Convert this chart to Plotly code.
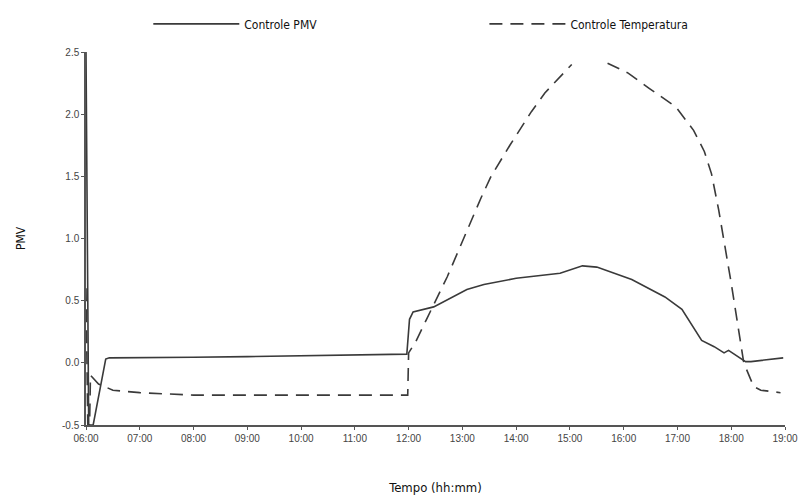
import plotly.graph_objects as go

# ---- data (time as HH:MM, PMV values) ----
pmv_times = ["06:00", "06:03", "06:08", "06:22", "06:26", "07:00", "08:00", "09:00",
             "10:00", "11:00", "11:58", "12:01", "12:05", "12:28", "13:05", "13:24",
             "14:00", "14:49", "15:14", "15:30", "16:09", "16:46", "17:05", "17:27",
             "17:41", "17:52", "17:57", "18:16", "18:22", "18:58"]
pmv_values = [2.5, -0.5, -0.5, 0.03, 0.04, 0.04, 0.045, 0.05,
              0.055, 0.06, 0.07, 0.35, 0.41, 0.45, 0.59, 0.63,
              0.68, 0.72, 0.78, 0.77, 0.67, 0.53, 0.43, 0.18,
              0.13, 0.08, 0.10, 0.01, 0.01, 0.04]

temp_times = ["06:00", "06:02", "06:04", "06:05", "06:14", "06:20", "06:30", "07:00",
              "08:00", "09:00", "10:00", "11:00", "11:59", "12:00", "12:08", "12:20",
              "12:43", "13:02", "13:21", "13:32", "13:53", "14:17", "14:32", "15:02",
              "15:20", "15:42", "16:05", "16:28", "16:58", "17:18", "17:30", "17:38",
              "17:46", "18:00", "18:14", "18:25", "18:33", "18:55"]
temp_values = [0.6, -0.5, -0.5, -0.1, -0.17, -0.19, -0.22, -0.24,
               -0.26, -0.26, -0.26, -0.26, -0.26, 0.08, 0.17, 0.35,
               0.69, 1.01, 1.33, 1.50, 1.75, 2.02, 2.17, 2.40,
               None, 2.41, 2.33, 2.21, 2.06, 1.87, 1.70, 1.52,
               1.23, 0.64, 0.0, -0.19, -0.22, -0.24]

tick_hours = list(range(6, 20))
tick_labels = ["06:00", "07:00", "08:00", "09:00", "10:00", "11:00", "12:00",
               "13:00", "14:00", "15:00", "16:00", "17:00", "18:00", "19:00"]


def to_hours(t):
    h, m = t.split(":")
    return int(h) + int(m) / 60.0


LINE = "#3a3a3a"
FONT = "Liberation Sans Narrow, DejaVu Sans Condensed, Roboto Condensed, Liberation Sans, sans-serif"

fig = go.Figure()
fig.add_trace(go.Scatter(
    x=[to_hours(t) for t in pmv_times], y=pmv_values, mode="lines",
    name="Controle PMV", legend="legend", line=dict(color=LINE, width=1.6)))
fig.add_trace(go.Scatter(
    x=[to_hours(t) for t in temp_times], y=temp_values, mode="lines",
    name="Controle Temperatura", legend="legend2", connectgaps=False,
    line=dict(color=LINE, width=1.6, dash="13px,8px")))

leg_common = dict(orientation="h", xref="container", yref="container",
                  xanchor="left", y=0.952, yanchor="middle",
                  font=dict(size=12, family=FONT, color="#111"),
                  bgcolor="rgba(0,0,0,0)")

fig.update_layout(
    width=806, height=497,
    margin=dict(l=86, r=21, t=52, b=72),
    paper_bgcolor="white", plot_bgcolor="white",
    font=dict(family=FONT, color="#222"),
    showlegend=True,
    legend=dict(x=0.184, itemwidth=86, **leg_common),
    legend2=dict(x=0.601, itemwidth=76, **leg_common),
    xaxis=dict(range=[6, 19], tickmode="array", tickvals=tick_hours, ticktext=tick_labels,
               automargin=False,
               showgrid=False, zeroline=False, showline=True, linecolor="#555", linewidth=1.5,
               ticks="outside", ticklen=3, tickcolor="#555",
               tickfont=dict(size=10, color="#444", family="Liberation Sans, Arial, sans-serif"),
               title=dict(text="Tempo (hh:mm)", font=dict(size=13, color="#111", family=FONT),
                          standoff=40)),
    yaxis=dict(range=[-0.5, 2.5], tickmode="array",
               tickvals=[-0.5, 0, 0.5, 1.0, 1.5, 2.0, 2.5],
               ticktext=["-0.5", "0.0", "0.5", "1.0", "1.5", "2.0", "2.5"],
               automargin=False,
               showgrid=False, zeroline=False, showline=True, linecolor="#555", linewidth=1.5,
               ticks="outside", ticklen=3, tickcolor="#555",
               tickfont=dict(size=10, color="#444", family="Liberation Sans, Arial, sans-serif"),
               title=dict(text="PMV", font=dict(size=12, color="#111", family=FONT),
                          standoff=34)),
)

fig.write_html("out.html")
